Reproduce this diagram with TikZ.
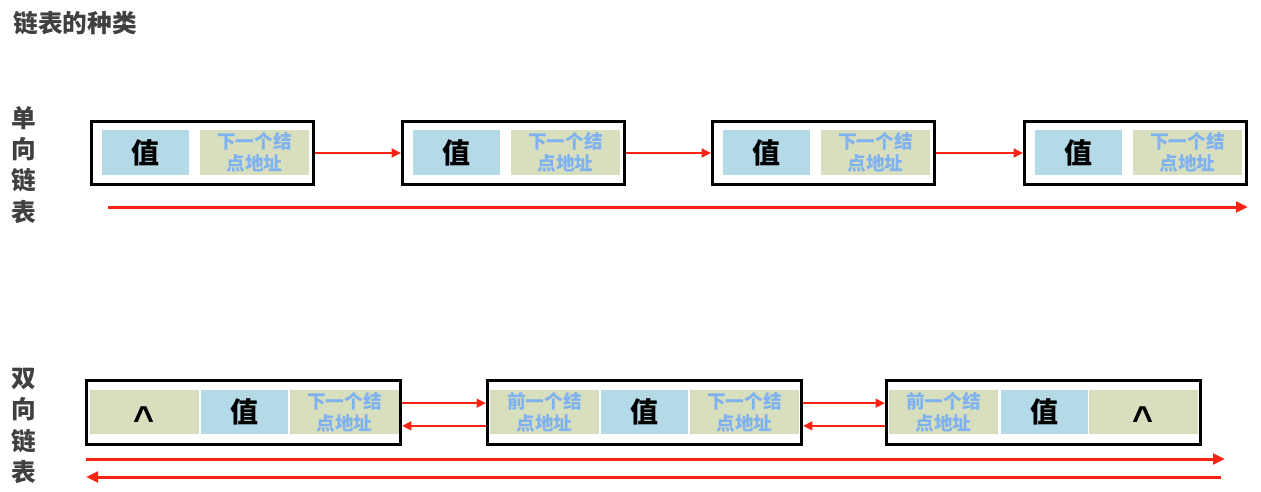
\documentclass[tikz,border=0pt]{standalone}
\usepackage{fontspec}
\newfontfamily\cjk{Noto Sans CJK SC}
\newfontfamily\caretfont{Liberation Sans}
\usetikzlibrary{arrows.meta}
\definecolor{valblue}{RGB}{180,218,232}
\definecolor{addrgreen}{RGB}{215,223,190}
\definecolor{addrblue}{RGB}{128,178,240}
\definecolor{linkred}{RGB}{250,35,20}
\definecolor{titlegray}{RGB}{64,64,64}
\tikzset{
  listbox/.style={draw,line width=2.25pt,minimum width=166.5pt,minimum height=47.25pt,inner sep=0pt},
  dlistbox/.style={listbox,minimum width=235.5pt,minimum height=48pt},
  cell/.style={minimum height=33pt,inner sep=0pt},
  valcell/.style={cell,fill=valblue,minimum width=65.25pt,font=\cjk\bfseries\fontsize{21}{24}\selectfont},
  addrcell/.style={cell,fill=addrgreen,text=addrblue,minimum width=81.75pt,align=center,font=\cjk\bfseries\fontsize{14}{16.5}\selectfont},
  nullcell/.style={cell,fill=addrgreen,minimum width=81.75pt,font=\caretfont\bfseries\fontsize{27}{27}\selectfont},
  sidelabel/.style={align=center,text=titlegray,font=\cjk\bfseries\fontsize{18.5}{23.5}\selectfont},
  link/.style={draw=linkred,line width=1.8pt,-{Triangle[length=7pt,width=6.5pt]}},
  chain/.style={draw=linkred,line width=2.25pt,-{Triangle[length=9pt,width=8pt]}}
}
\newcommand{\nullmark}{\raisebox{-14.3pt}[0pt][0pt]{\textasciicircum}}
\begin{document}
\begin{tikzpicture}[x=0.75pt,y=-0.75pt]
\useasboundingbox (0,0) rectangle (1261,492);

\node[sidelabel] (title) at (75,23) {链表的种类};
\node[sidelabel] (single) at (24,165) {单\\向\\链\\表};
\node[sidelabel] (double) at (24,426) {双\\向\\链\\表};

% singly linked list
\node[listbox] (S1) at (202.5,153) {};
\node[valcell] (S1v) at (145.5,152.5) {值};
\node[addrcell] (S1n) at (254.5,152.5) {下一个结\\点地址};
\node[listbox] (S2) at (513.5,153) {};
\node[valcell] (S2v) at (456.5,152.5) {值};
\node[addrcell] (S2n) at (565.5,152.5) {下一个结\\点地址};
\node[listbox] (S3) at (823.5,153) {};
\node[valcell] (S3v) at (766.5,152.5) {值};
\node[addrcell] (S3n) at (875.5,152.5) {下一个结\\点地址};
\node[listbox] (S4) at (1135.5,153) {};
\node[valcell] (S4v) at (1078.5,152.5) {值};
\node[addrcell] (S4n) at (1187.5,152.5) {下一个结\\点地址};

\draw[link] (S1) -- (S2);
\draw[link] (S2) -- (S3);
\draw[link] (S3) -- (S4);

\coordinate (sbegin) at (108,207);
\coordinate (send) at (1248,207);
\draw[chain] (sbegin) -- (send);

% doubly linked list
\node[dlistbox] (D1) at (243.5,412.5) {};
\node[nullcell] (D1p) at (144.5,412) {\nullmark};
\node[valcell] (D1v) at (244,412) {值};
\node[addrcell] (D1n) at (344.5,412) {下一个结\\点地址};
\node[dlistbox] (D2) at (644.5,412.5) {};
\node[addrcell] (D2p) at (544.5,412) {前一个结\\点地址};
\node[valcell] (D2v) at (644.5,412) {值};
\node[addrcell] (D2n) at (744.5,412) {下一个结\\点地址};
\node[dlistbox] (D3) at (1043.5,412.5) {};
\node[addrcell] (D3p) at (943.5,412) {前一个结\\点地址};
\node[valcell] (D3v) at (1044,412) {值};
\node[nullcell] (D3n) at (1143.5,412) {\nullmark};

\draw[link] ([yshift=7pt]D1.east) -- ([yshift=7pt]D2.west);
\draw[link] ([yshift=-10pt]D2.west) -- ([yshift=-10pt]D1.east);
\draw[link] ([yshift=7pt]D2.east) -- ([yshift=7pt]D3.west);
\draw[link] ([yshift=-10pt]D3.west) -- ([yshift=-10pt]D2.east);

\coordinate (dbegin) at (86,459);
\coordinate (dend) at (1225,459);
\draw[chain] (dbegin) -- (dend);
\coordinate (rbegin) at (1221,477);
\coordinate (rend) at (86,477);
\draw[chain] (rbegin) -- (rend);
\end{tikzpicture}
\end{document}
